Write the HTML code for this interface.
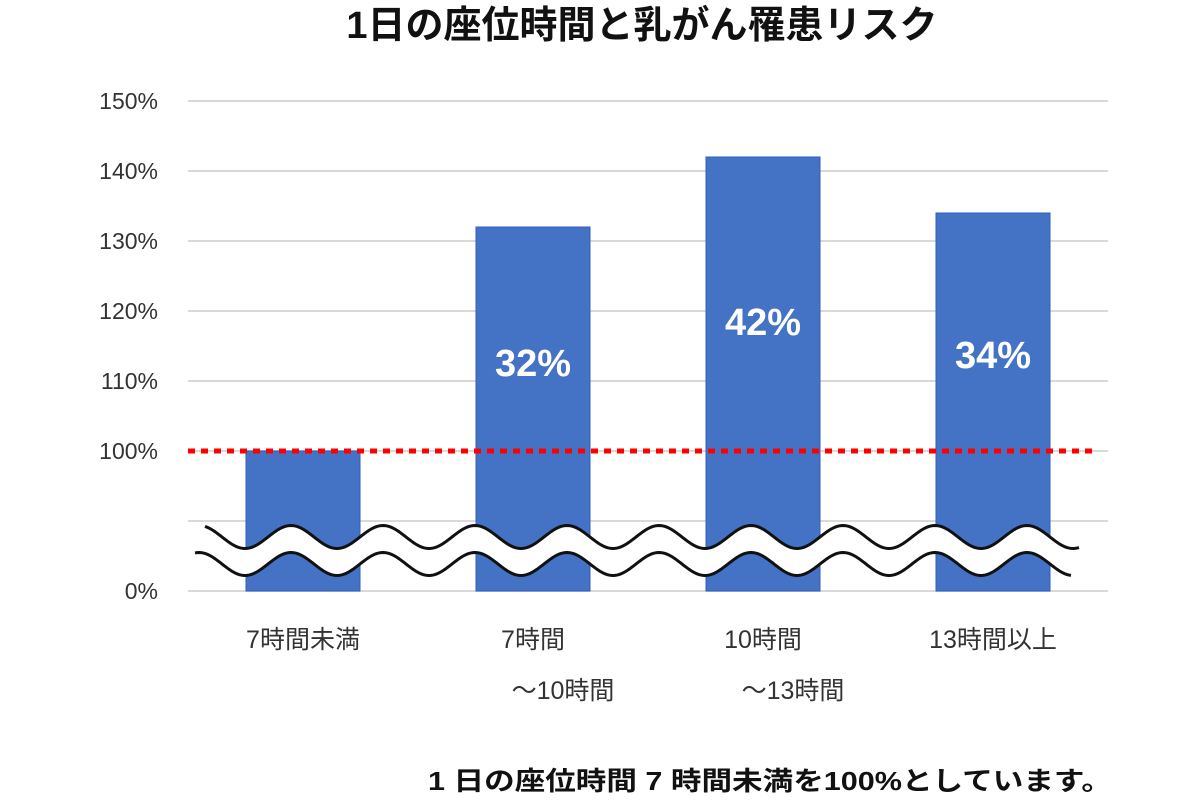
<!DOCTYPE html>
<html><head><meta charset="utf-8"><style>
body{margin:0;background:#fff;}
svg{display:block;font-family:"Liberation Sans","Noto Sans CJK JP",sans-serif;}
</style></head><body>
<svg id="chart" width="1200" height="800">
<text x="642" y="38" text-anchor="middle" font-size="38" font-weight="bold" fill="#111">1日の座位時間と乳がん罹患リスク</text>
<g id="grid"></g><g id="bars"></g><g id="wave"></g><g id="labels"></g>
<text x="428" y="790" font-size="26" font-weight="bold" fill="#111" textLength="684" lengthAdjust="spacingAndGlyphs">1 日の座位時間 7 時間未満を100%としています。</text>
</svg>
<script>
const categories=[["7時間未満"],["7時間","～10時間"],["10時間","～13時間"],["13時間以上"]];
const values=[100,132,142,134];
const valueLabels=["","32%","42%","34%"];
const tickValues=[150,140,130,120,110,100];
const tickLabels=["150%","140%","130%","120%","110%","100%"];
const NS="http://www.w3.org/2000/svg";
function mk(t,a,p){const e=document.createElementNS(NS,t);for(const k in a)e.setAttribute(k,a[k]);p.appendChild(e);return e;}
const y=v=>451-(v-100)*7;
const x0=188,x1=1108,bw=(x1-x0)/categories.length;
const xc=i=>x0+bw*(i+0.5);
const g=document.getElementById('grid');
tickValues.forEach((v,i)=>{
 const l=mk('line',{x1:x0,x2:x1,y1:y(v),y2:y(v),stroke:'#d9d9d9','stroke-width':2},g);
 
 
 const t=mk('text',{x:158,y:y(v)+8,'text-anchor':'end','font-size':23,fill:'#333'},g);
 t.textContent=tickLabels[i];
 
 
});
[521,591].forEach(yy=>{const l=mk('line',{x1:x0,x2:x1,y1:yy,y2:yy,stroke:'#d9d9d9','stroke-width':2},g);
 
 });
const t0=mk('text',{x:158,y:599,'text-anchor':'end','font-size':23,fill:'#333'},g);t0.textContent="0%";


const b=document.getElementById('bars');
const lab=document.getElementById('labels');
values.forEach((v,i)=>{
 const r=mk('rect',{x:xc(i)-57,y:y(v),width:114,height:591-y(v),fill:'#4472c4',stroke:'#2f5fc0','stroke-width':1},b);
 
 
 if(valueLabels[i]){const t=mk('text',{x:xc(i),y:y(v)+(591-y(v))*0.41,'text-anchor':'middle','font-size':38,'font-weight':'bold',fill:'#fff'},b);
  t.textContent=valueLabels[i];
  
  }
 categories[i].forEach((s,j)=>{const t=mk('text',{x:xc(i)+(j?30:0),y:648+j*51,'text-anchor':'middle','font-size':25,fill:'#333'},lab);
  t.textContent=s;
  
  });
});
const ref=mk('line',{x1:x0,x2:1095,y1:y(100),y2:y(100),stroke:'#ff0000','stroke-width':5,'stroke-dasharray':'7,6'},b);


const w=document.getElementById('wave');
function wv(c,xa,xb){const p=[];for(let xx=xa;xx<=xb;xx+=2)p.push([xx,c+11.5*Math.cos(2*Math.PI*(xx-245)/92)]);return p;}
const up=wv(537,205,1080),lo=wv(564,195,1072);
const fill=mk('path',{d:'M'+up.map(p=>p.join(',')).join('L')+'L'+lo.slice().reverse().map(p=>p.join(',')).join('L')+'Z',fill:'#fff'},w);


[up,lo].forEach(pts=>{const p=mk('path',{d:'M'+pts.map(q=>q.join(',')).join('L'),fill:'none',stroke:'#111','stroke-width':3},w);
 
 });
</script>
</body></html>
